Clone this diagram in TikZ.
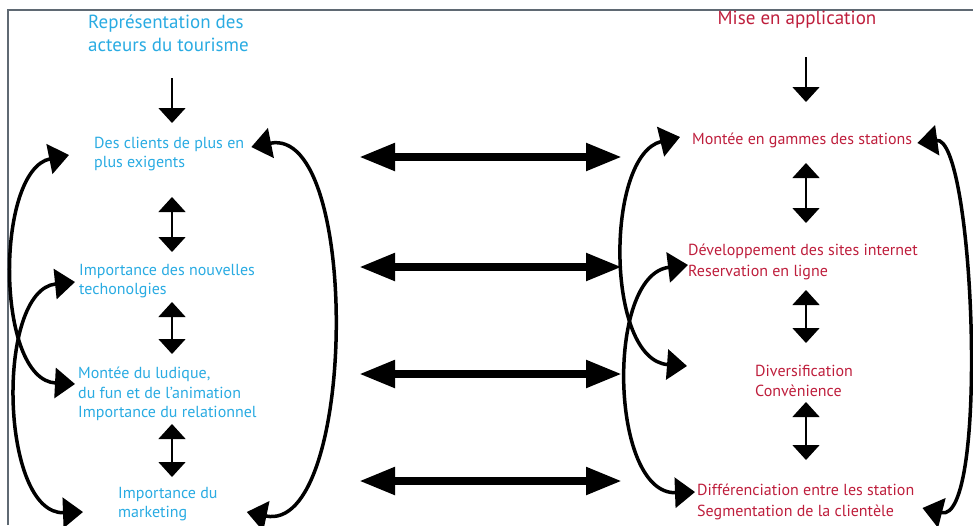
\documentclass[tikz,border=0pt]{standalone}
\usepackage{fontspec}
\setmainfont{PT Sans}
\usetikzlibrary{arrows.meta,calc}
\definecolor{touristblue}{RGB}{41,171,226}
\definecolor{stationred}{RGB}{190,30,60}
\definecolor{framegray}{RGB}{95,105,115}
\begin{document}
\begin{tikzpicture}[x=1pt,y=-1pt,%
% common options for the texts:
lefttext/.style = {text=touristblue, align=left, anchor=west, inner sep=0,
            font=\fontsize{16}{19.5}\selectfont},
righttext/.style = {text=stationred, align=left, anchor=west, inner sep=0,
            font=\fontsize{16}{20.5}\selectfont},
lefttitle/.style = {lefttext, font=\fontsize{19}{23}\selectfont},
righttitle/.style = {righttext, anchor=center, font=\fontsize{19}{23}\selectfont},
% common options for the arrows:
thinarrow/.style = {line width=1.5pt, {Triangle[length=15pt,width=27pt]}-{Triangle[length=15pt,width=27pt]}},
downarrow/.style = {line width=1.5pt, -{Triangle[length=15pt,width=27pt]}},
bigarrow/.style = {line width=8pt, {Triangle[length=36pt,width=26pt]}-{Triangle[length=36pt,width=26pt]}},
loop/.style = {line width=3.5pt, {Triangle[length=20pt,width=30pt]}-{Triangle[length=20pt,width=30pt]}}]
\useasboundingbox (0,0) rectangle (973,525);
\draw[framegray, line width=2pt] (8,525) -- (8,10) -- (973,10);
\coordinate (colL) at (172,0);
\coordinate (colR) at (806,0);
\coordinate (hl) at (359,0);
\coordinate (hr) at (622,0);
\node[lefttitle] (L0) at (88,33) {Représentation des\\acteurs du tourisme};
\node[lefttext] (L1) at (94,154) {Des clients de plus en\\plus exigents};
\node[lefttext] (L2) at (79,281) {Importance des nouvelles\\techonolgies};
\node[lefttext] (L3) at (78,394) {Montée du ludique,\\du fun et de l’animation\\Importance du relationnel};
\node[lefttext] (L4) at (118,504) {Importance du\\marketing};
\node[righttitle] (R0) at (797,20) {Mise en application};
\node[righttext] (R1) at (692,140) {Montée en gammes des stations};
\node[righttext] (R2) at (688,262) {Développement des sites internet\\Reservation en ligne};
\node[righttext] (R3) at (755,381) {Diversification\\Convènience};
\node[righttext] (R4) at (697,502) {Différenciation entre les station\\Segmentation de la clientèle};
\draw[downarrow] ($(L0.west -| colL)+(0,45)$) to ($(L1.west -| colL)+(0,-31)$);
\draw[thinarrow] ($(L1.west -| colL)+(0,43)$) to ($(L2.west -| colL)+(0,-29)$);
\draw[thinarrow] ($(L2.west -| colL)+(0,21)$) to ($(L3.west -| colL)+(0,-40)$);
\draw[thinarrow] ($(L3.west -| colL)+(0,30)$) to ($(L4.west -| colL)+(0,-27)$);
\draw[downarrow] ($(R0.center -| colR)+(0,37)$) to ($(R1.west -| colR)+(0,-38)$);
\draw[thinarrow] ($(R1.west -| colR)+(0,23)$) to ($(R2.west -| colR)+(0,-39)$);
\draw[thinarrow] ($(R2.west -| colR)+(0,28)$) to ($(R3.west -| colR)+(0,-38)$);
\draw[thinarrow] ($(R3.west -| colR)+(0,21)$) to ($(R4.west -| colR)+(0,-42)$);
\draw[bigarrow] ($(L1.west -| hl)+(0,3)$) to ($(R1.west -| hr)+(0,17)$);
\draw[bigarrow] ($(L2.west -| hl)+(0,-14)$) to ($(R2.west -| hr)+(0,5)$);
\draw[bigarrow] ($(L3.west -| hl)+(0,-20)$) to ($(R3.west -| hr)+(0,-7)$);
\draw[bigarrow] ($(L4.west -| hl)+(0,-23)$) to ($(R4.west -| hr)+(0,-21)$);
\draw[loop] ($(L1.west)+(-25,1)$) .. controls +(-74,15) and +(-80,-4) .. ($(L3.west)+(-3,-10)$);
\draw[loop] ($(L2.west)+(-4,1)$) .. controls +(-80,8) and +(-83,3) .. ($(L4.west)+(-35,8)$);
\draw[loop] ($(L1.east)+(7,-7)$) .. controls +(110,-22) and +(110,23) .. ($(L4.east)+(29,8)$);
\draw[loop] ($(R1.west)+(-12,-3)$) .. controls +(-75,18) and +(-82,-6) .. ($(R3.west)+(-68,-15)$);
\draw[loop] ($(R2.west)+(0,3)$) .. controls +(-83,10) and +(-85,3) .. ($(R4.west)+(-2,-10)$);
\draw[loop] ($(R1.east)+(5,3)$) .. controls +(57,-8) and +(67,17) .. ($(R4.east)+(8,6)$);
\end{tikzpicture}
\end{document}
